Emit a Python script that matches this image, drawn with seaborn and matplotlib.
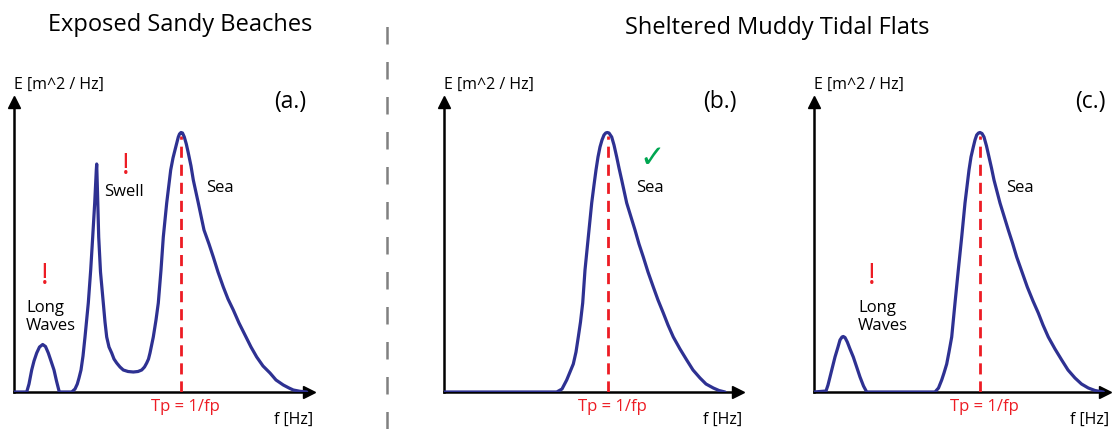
import numpy as np
import matplotlib
matplotlib.use("Agg")
import matplotlib.pyplot as plt
import seaborn as sns

# --- spectra (f and E in arbitrary units) ---
F_A = [0, 12.7, 15, 17.7, 20, 22.7, 25.5, 28.7, 31.5, 34.3, 37, 40, 42.5, 45.3,
       57.7, 61, 63.3, 65, 67, 69, 71, 74.3, 76.7, 78.7, 80.7, 82.3, 82.7, 83.5,
       84.7, 86.5, 89.3, 91, 92.7, 95, 97.7, 100, 102.7, 106, 109.3, 114, 119.3,
       124, 127.7, 130.5, 132.7, 134.5, 136, 139.3, 142, 144.3, 147, 149.3, 152.7,
       156.7, 159, 161, 164.3, 165.5, 167, 168.5, 170.3, 172.3, 174.3, 177, 179.3,
       184.3, 190, 195, 199.3, 204, 209.3, 214, 219.3, 225, 232, 237, 242.7, 249,
       256, 262, 269.3, 275, 279.3, 286, 292.7]
E_A = [0, 0, 8, 22, 31, 39, 45, 47.5, 45.5, 39, 31, 22, 11, 0,
       0, 3, 8, 14, 22, 36, 55, 89, 122, 155, 189, 222, 228, 200,
       155, 120, 89, 70, 55, 45, 39, 33, 29, 25, 22, 20.5, 20,
       20.5, 22, 25, 29, 33, 39, 55, 72, 89, 122, 155, 189,
       222, 234, 242, 255, 258, 259.5, 259, 255, 248, 239, 226, 212,
       189, 162, 148, 135, 120, 105, 93, 82, 69, 55, 45, 35, 26,
       19, 12, 7, 4, 2, 0.7, 0]

F_B = [0, 112.7, 118, 122.7, 126, 129.3, 132, 134.3, 136.5, 138.7, 141, 144.3,
       147.7, 150, 152, 154, 156, 158, 160, 161.7, 163.3, 165, 167.7, 170, 172.7,
       175, 177.7, 182.7, 191, 195, 199.3, 204, 209.3, 214, 219.3, 224, 229.3,
       236, 242.7, 249, 256, 262, 269.3, 275, 281]
E_B = [0, 0, 3, 12, 20, 28, 40, 55, 70, 89, 122, 155,
       189, 207, 222, 235, 245, 252, 257, 259, 259.5, 259, 255, 247, 235,
       224, 212, 189, 162, 148, 135, 120, 105, 92, 79, 67, 55,
       43, 32, 22, 14, 8, 4, 1.5, 0]

F_C = [0, 12, 14, 16, 21, 24, 26, 28, 29.3, 31, 33.3, 36, 39.3, 43, 46, 49.5, 52.7,
       121, 124.5, 127.7, 130, 132.7, 135, 137.7, 141, 144.3, 147.7, 151, 155,
       157, 159.3, 161, 162.7, 164.5, 166, 168, 170, 172.5, 175, 177.5, 180, 186,
       194.3, 198.5, 202.7, 208, 213.3, 219, 224.3, 229, 234.3, 241, 247.7, 254,
       261, 267.5, 274.3, 281, 289.3]
E_C = [0, 1, 7, 15, 35, 45, 52, 55, 55.5, 54.5, 50, 43, 35, 24, 15, 6, 0,
       0, 4, 12, 19, 28, 40, 55, 89, 122, 155, 189, 222,
       235, 245, 252, 257, 259, 259.5, 258.5, 255, 246, 235, 224, 212, 189,
       162, 149, 135, 120, 105, 91, 79, 67, 55, 43, 32, 22,
       14, 8, 4, 1.5, 0]

TP = [167, 164.3, 166]          # peak frequency markers
PANEL_TAGS = ["(a.)", "(b.)", "(c.)"]
TITLES = ["Exposed Sandy Beaches", "Sheltered Muddy Tidal Flats"]

NAVY = "#2e3192"
RED = "#ed1c24"
GREEN = "#00a651"

W, H = 1116, 429
sns.set_theme(style="white")
plt.rcParams["font.family"] = ["Open Sans", "DejaVu Sans"]
plt.rcParams["text.color"] = "black"

fig = plt.figure(figsize=(W / 100, H / 100), dpi=100)

# axes origin (px) and widths
origins = [14, 444, 814]
widths = [295, 294, 291]
ax_h = 290
base_px = 392

series = [(F_A, E_A), (F_B, E_B), (F_C, E_C)]
axes = []
for i, (f, e) in enumerate(series):
    ax = fig.add_axes([origins[i] / W, (H - base_px) / H, widths[i] / W, ax_h / H])
    sns.lineplot(x=f, y=e, ax=ax, color=NAVY, lw=2.3, sort=False, zorder=4,
                 solid_joinstyle="round", solid_capstyle="round")
    ax.vlines(TP[i], 0, max(e) - 3, colors=RED, lw=2, linestyles=(0, (4, 2.5)), zorder=3)
    ax.set_xlim(0, widths[i])
    ax.set_ylim(0, ax_h)
    ax.set_xticks([])
    ax.set_yticks([])
    ax.set_facecolor("none")
    for s in ["top", "right"]:
        ax.spines[s].set_visible(False)
    for s in ["left", "bottom"]:
        ax.spines[s].set_color("black")
        ax.spines[s].set_linewidth(1.8)
    ax.plot(1, 0, ">", color="black", ms=9, transform=ax.get_yaxis_transform(), clip_on=False)
    ax.plot(0, 1, "^", color="black", ms=9, transform=ax.get_xaxis_transform(), clip_on=False)

    ax.text(0, 307, "E [m^2 / Hz]", fontsize=11.5, ha="left", va="center")
    ax.text(276, 290, PANEL_TAGS[i], fontsize=16.5, ha="center", va="center")
    ax.text(TP[i] + 4, -15, "Tp = 1/fp", color=RED, fontsize=12, ha="center", va="center")
    ax.text(widths[i] + 4, -28, "f [Hz]", fontsize=11.5, ha="right", va="center")
    ax.text(206, 204, "Sea", fontsize=12, ha="center", va="center")
    axes.append(ax)

# panel annotations
axes[0].text(110, 200, "Swell", fontsize=12, ha="center", va="center")
axes[0].text(112, 226, "!", color=RED, fontsize=21, ha="center", va="center")
axes[0].text(12, 75, "Long\nWaves", fontsize=12, ha="left", va="center", linespacing=1.2)
axes[0].text(31, 116, "!", color=RED, fontsize=21, ha="center", va="center")

axes[1].text(208, 234, "\u2713", color=GREEN, fontsize=22, ha="center", va="center",
             family=["DejaVu Sans"])

axes[2].text(44, 75, "Long\nWaves", fontsize=12, ha="left", va="center", linespacing=1.2)
axes[2].text(58, 116, "!", color=RED, fontsize=21, ha="center", va="center")

# titles and divider
fig.text(180 / W, 1 - 25 / H, TITLES[0], fontsize=17, ha="center", va="center")
fig.text(777 / W, 1 - 28 / H, TITLES[1], fontsize=17, ha="center", va="center")
fig.add_artist(plt.Line2D([387 / W, 387 / W], [0, 1 - 15 / H], color="#808080", lw=1.8,
                          linestyle=(0, (7, 7))))

fig.savefig("out.png", dpi=100)
